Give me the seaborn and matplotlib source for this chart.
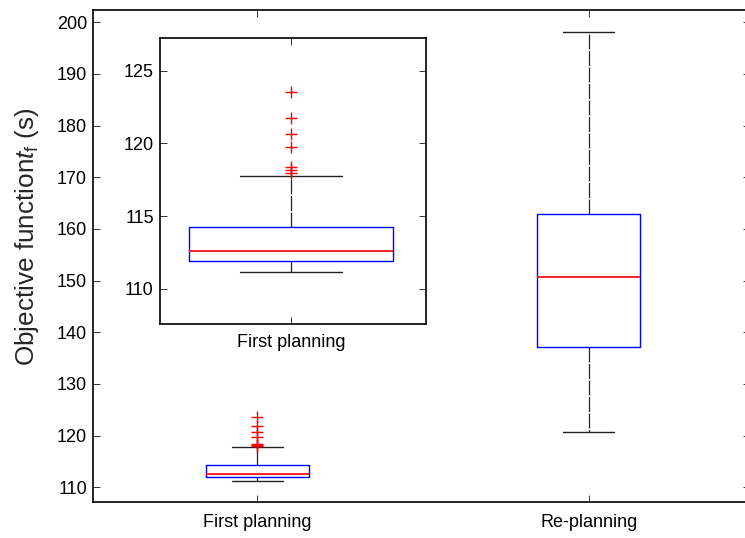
import numpy as np
import pandas as pd
import matplotlib
matplotlib.use("Agg")
import matplotlib.pyplot as plt
import seaborn as sns

# Box summary values (s): lower whisker, Q1, median, Q3, upper whisker
first_key = [111.17, 111.90, 112.61, 114.26, 117.73]
first_counts = [1, 9, 9, 9, 1]
first_outliers = [117.98, 118.17, 118.35, 119.77, 120.64, 121.77, 123.51]

replan_key = [120.65, 137.10, 150.70, 162.80, 198.10]
replan_counts = [1, 1, 1, 1, 1]

categories = ["First planning", "Re-planning"]
main_yticks = [110, 120, 130, 140, 150, 160, 170, 180, 190, 200]
inset_yticks = [110, 115, 120, 125]

first_values = np.concatenate([np.repeat(first_key, first_counts), first_outliers])
replan_values = np.repeat(replan_key, replan_counts)

df = pd.DataFrame({
    "planning": [categories[0]] * len(first_values) + [categories[1]] * len(replan_values),
    "value": np.concatenate([first_values, replan_values]),
})
df_first = df[df["planning"] == categories[0]]

sns.set_theme(style="white")
plt.rcParams["font.family"] = ["Liberation Sans", "DejaVu Sans"]
plt.rcParams["mathtext.fontset"] = "custom"
plt.rcParams["mathtext.it"] = "Liberation Sans:italic"
plt.rcParams["mathtext.rm"] = "Liberation Sans"

box_kws = dict(
    width=0.31,
    fill=False,
    linewidth=0.9,
    boxprops=dict(color="blue", linewidth=1.0),
    medianprops=dict(color="red", linewidth=1.2),
    whiskerprops=dict(color="#222222", linewidth=0.9, linestyle=(0, (12, 1.2))),
    capprops=dict(color="#222222", linewidth=1.0),
    flierprops=dict(marker="+", markeredgecolor="red", markerfacecolor="none",
                    markersize=9, markeredgewidth=1.0),
)

fig = plt.figure(figsize=(7.45, 5.38), dpi=100)


def style_axes(ax):
    for sp in ax.spines.values():
        sp.set_linewidth(1.2)
        sp.set_color("black")
    ax.tick_params(axis="both", which="both", direction="in", length=5, width=0.7,
                   color="#333333", top=True, right=True, bottom=True, left=True,
                   labelsize=13, labelcolor="black", pad=4.5)
    ax.tick_params(axis="x", pad=9)
    ax.grid(False)


# Main axes with both planning runs
ax = fig.add_axes([0.1252, 0.0675, 0.8815, 0.9139])
sns.boxplot(data=df, x="planning", y="value", order=categories, ax=ax, **box_kws)
ax.set_xlim(-0.495, 1.487)
ax.set_ylim(107.21, 202.36)
ax.set_yticks(main_yticks)
ax.set_xlabel("")
ax.set_ylabel(r"Objective function$t_{\mathrm{f}}$ (s)", fontsize=18.8)
ax.yaxis.set_label_coords(-0.080, 0.540)
style_axes(ax)

# Inset zoomed on the first planning distribution
axi = fig.add_axes([0.2148, 0.3978, 0.3566, 0.5310])
sns.boxplot(data=df_first, x="planning", y="value", ax=axi, **box_kws)
axi.set_xlim(-0.1994, 0.2056)
axi.set_ylim(107.57, 127.23)
axi.set_yticks(inset_yticks)
axi.set_xlabel("")
axi.set_ylabel("")
style_axes(axi)
axi.tick_params(axis="x", pad=7)

fig.savefig("out.png", dpi=100)
